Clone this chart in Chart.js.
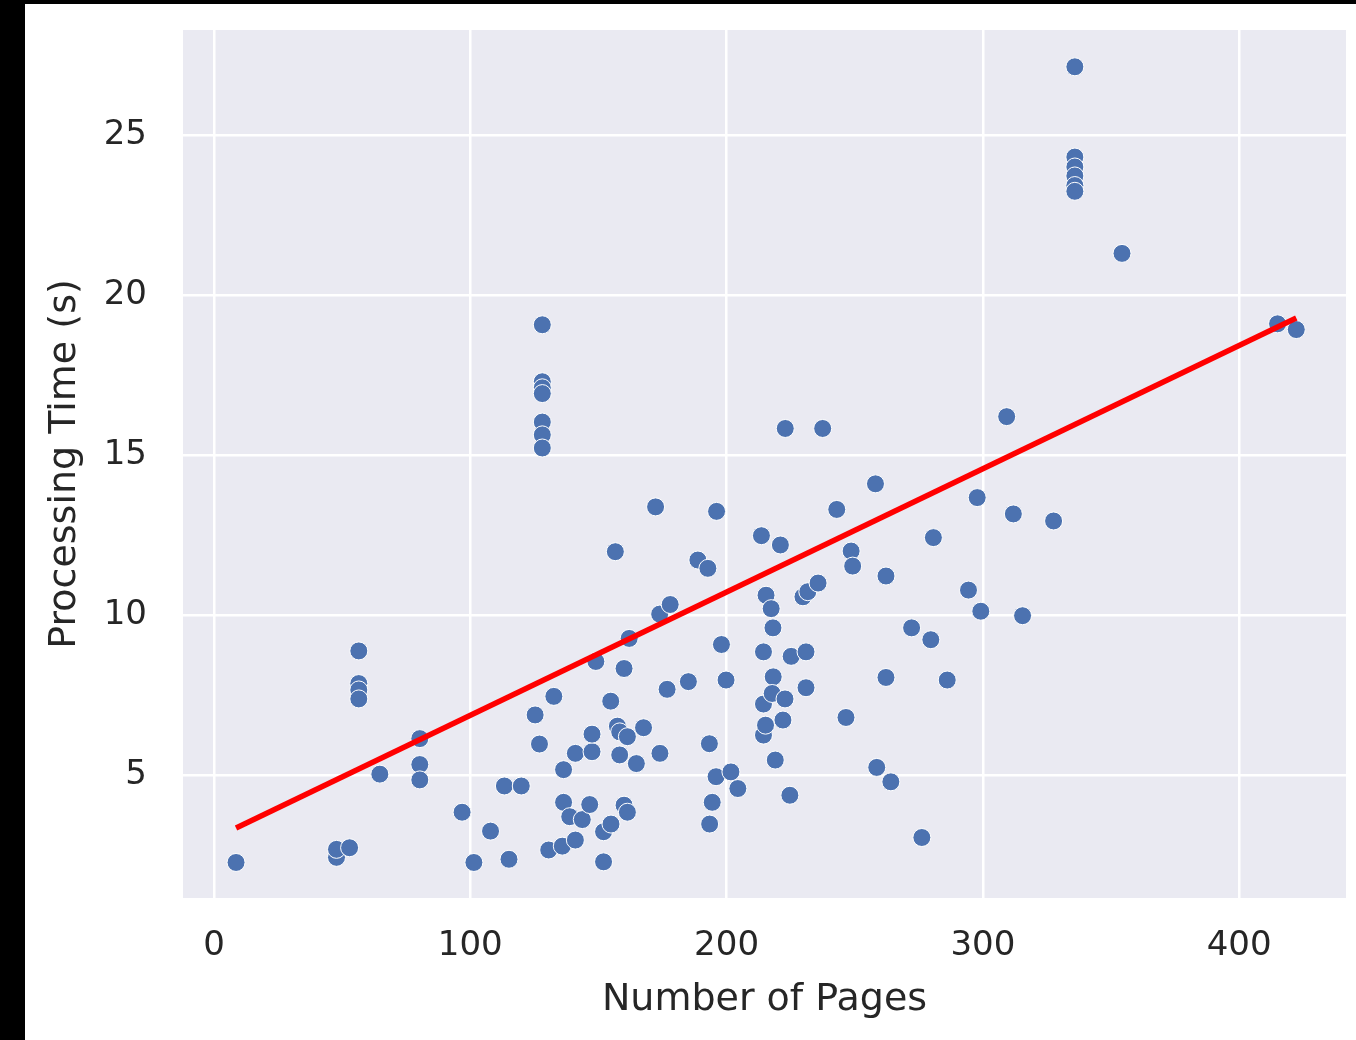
<!DOCTYPE html>
<html>
<head>
<meta charset="utf-8">
<script src="https://cdn.jsdelivr.net/npm/chart.js@4.4.1/dist/chart.umd.min.js"></script>
<style>
    html, body { margin: 0; padding: 0; background: #000; }
    #wrap {
        position: absolute; left: 25px; top: 4px;
        width: 1331px; height: 1036px; background: #fff;
    }
</style>
</head>
<body>
<div id="wrap"><canvas id="chart" width="1331" height="1036"></canvas></div>
<script>
// pages per document vs. processing time (seconds)
const pages = [
    8.6, 47.8, 47.8, 52.9, 56.5, 56.5, 56.5, 56.5, 64.7, 80.3,
    80.3, 80.3, 96.8, 101.4, 107.9, 113.3, 119.9, 115.1, 125.3, 127.0,
    128.1, 128.1, 128.1, 128.1, 128.1, 128.1, 128.1, 130.6, 132.6, 136.4,
    135.9, 141.0, 136.4, 138.8, 143.7, 146.6, 141.0, 147.5, 147.5, 149.0,
    152.0, 154.9, 152.0, 154.8, 156.6, 157.4, 158.3, 161.3, 158.3, 160.0,
    162.0, 160.0, 161.3, 164.8, 167.6, 172.3, 174.0, 173.9, 178.0, 176.8,
    185.1, 188.8, 192.7, 193.3, 193.4, 194.4, 195.9, 196.1, 198.0, 199.8,
    201.7, 204.4, 213.6, 214.4, 214.4, 214.4, 215.2, 215.4, 217.4, 218.1,
    218.2, 217.8, 219.0, 221.0, 222.0, 222.8, 222.9, 224.7, 225.2, 229.8,
    231.7, 235.7, 231.0, 231.0, 237.5, 243.0, 246.6, 248.6, 249.2, 258.1,
    258.6, 262.2, 262.2, 264.1, 272.2, 276.2, 279.7, 280.7, 286.1, 294.4,
    297.8, 299.2, 309.3, 311.9, 315.5, 327.6, 335.9, 335.9, 335.9, 335.9,
    335.9, 335.9, 354.3, 415.0, 422.3
];
const times = [
    2.27, 2.43, 2.68, 2.73, 8.88, 7.86, 7.66, 7.38, 5.03, 6.14,
    5.33, 4.85, 3.84, 2.27, 3.25, 4.66, 4.66, 2.37, 6.88, 5.97,
    19.07, 17.29, 17.10, 16.92, 16.03, 15.63, 15.22, 2.66, 7.46, 5.17,
    2.78, 2.97, 4.15, 3.70, 3.61, 4.08, 5.68, 5.73, 6.28, 8.55,
    3.23, 3.47, 2.29, 7.31, 11.98, 6.53, 6.35, 6.20, 5.63, 8.33,
    9.27, 4.06, 3.84, 5.36, 6.48, 13.38, 5.68, 10.03, 10.33, 7.68,
    7.92, 11.72, 11.46, 5.98, 3.47, 4.15, 4.95, 13.24, 9.08, 7.97,
    5.10, 4.58, 12.48, 8.85, 7.22, 6.25, 6.56, 10.62, 10.20, 9.60,
    8.07, 7.55, 5.47, 12.19, 6.72, 7.38, 15.83, 4.37, 8.71, 10.57,
    10.73, 11.00, 8.85, 7.73, 15.83, 13.30, 6.80, 12.00, 11.53, 14.10,
    5.24, 11.22, 8.05, 4.79, 9.60, 3.05, 9.23, 12.42, 7.97, 10.78,
    13.67, 10.12, 16.20, 13.16, 9.98, 12.94, 27.13, 24.31, 24.00, 23.72,
    23.42, 23.24, 21.30, 19.10, 18.92
];

// fitted line, end points
const fitPages = [8.6, 422.3];
const fitTimes = [3.35, 19.28];

const xTicks = [0, 100, 200, 300, 400];
const yTicks = [5, 10, 15, 20, 25];

const FONT = "'DejaVu Sans', sans-serif";
const TEXT = "#262626";

// grey panel behind the plot (seaborn darkgrid look)
const panelBg = {
    id: "panelBg",
    beforeDraw(chart) {
        const { ctx, chartArea: a } = chart;
        ctx.save();
        ctx.fillStyle = "#eaeaf2";
        ctx.fillRect(a.left, a.top, a.right - a.left, a.bottom - a.top);
        ctx.restore();
    }
};

new Chart(document.getElementById("chart"), {
    type: "scatter",
    data: {
        datasets: [
            {
                type: "line",
                data: fitPages.map((x, i) => ({ x, y: fitTimes[i] })),
                borderColor: "#ff0000",
                borderWidth: 5.5,
                pointRadius: 0,
                fill: false
            },
            {
                data: pages.map((x, i) => ({ x, y: times[i] })),
                backgroundColor: "#4c72b0",
                borderColor: "#ffffff",
                borderWidth: 1,
                pointRadius: 9,
                pointHoverRadius: 9
            }
        ]
    },
    options: {
        responsive: false,
        animation: false,
        layout: { padding: { top: 26, right: 9, left: 0, bottom: 0 } },
        plugins: { legend: { display: false }, tooltip: { enabled: false } },
        scales: {
            x: {
                type: "linear",
                min: -12.1,
                max: 441.7,
                afterBuildTicks: ax => { ax.ticks = xTicks.map(v => ({ value: v })); },
                afterFit: ax => { ax.height = 142; ax.paddingLeft = 0; ax.paddingRight = 0; },
                border: { display: false },
                grid: { color: "#ffffff", lineWidth: 2.5, drawTicks: false },
                ticks: {
                    color: TEXT, padding: 28,
                    font: { family: FONT, size: 34 },
                    callback: v => String(v)
                },
                title: {
                    display: true, text: "Number of Pages", color: TEXT,
                    font: { family: FONT, size: 38 },
                    padding: { top: 0, bottom: 17 }
                }
            },
            y: {
                type: "linear",
                min: 1.16,
                max: 28.28,
                afterBuildTicks: ax => { ax.ticks = yTicks.map(v => ({ value: v })); },
                afterFit: ax => { ax.width = 158; ax.paddingTop = 0; ax.paddingBottom = 0; },
                border: { display: false },
                grid: { color: "#ffffff", lineWidth: 2.5, drawTicks: false },
                ticks: {
                    color: TEXT, padding: 36,
                    font: { family: FONT, size: 34 },
                    callback: v => String(v)
                },
                title: {
                    display: true, text: "Processing Time (s)", color: TEXT,
                    font: { family: FONT, size: 38 },
                    padding: { top: 17, bottom: 0 }
                }
            }
        }
    },
    plugins: [panelBg]
});
</script>
</body>
</html>
